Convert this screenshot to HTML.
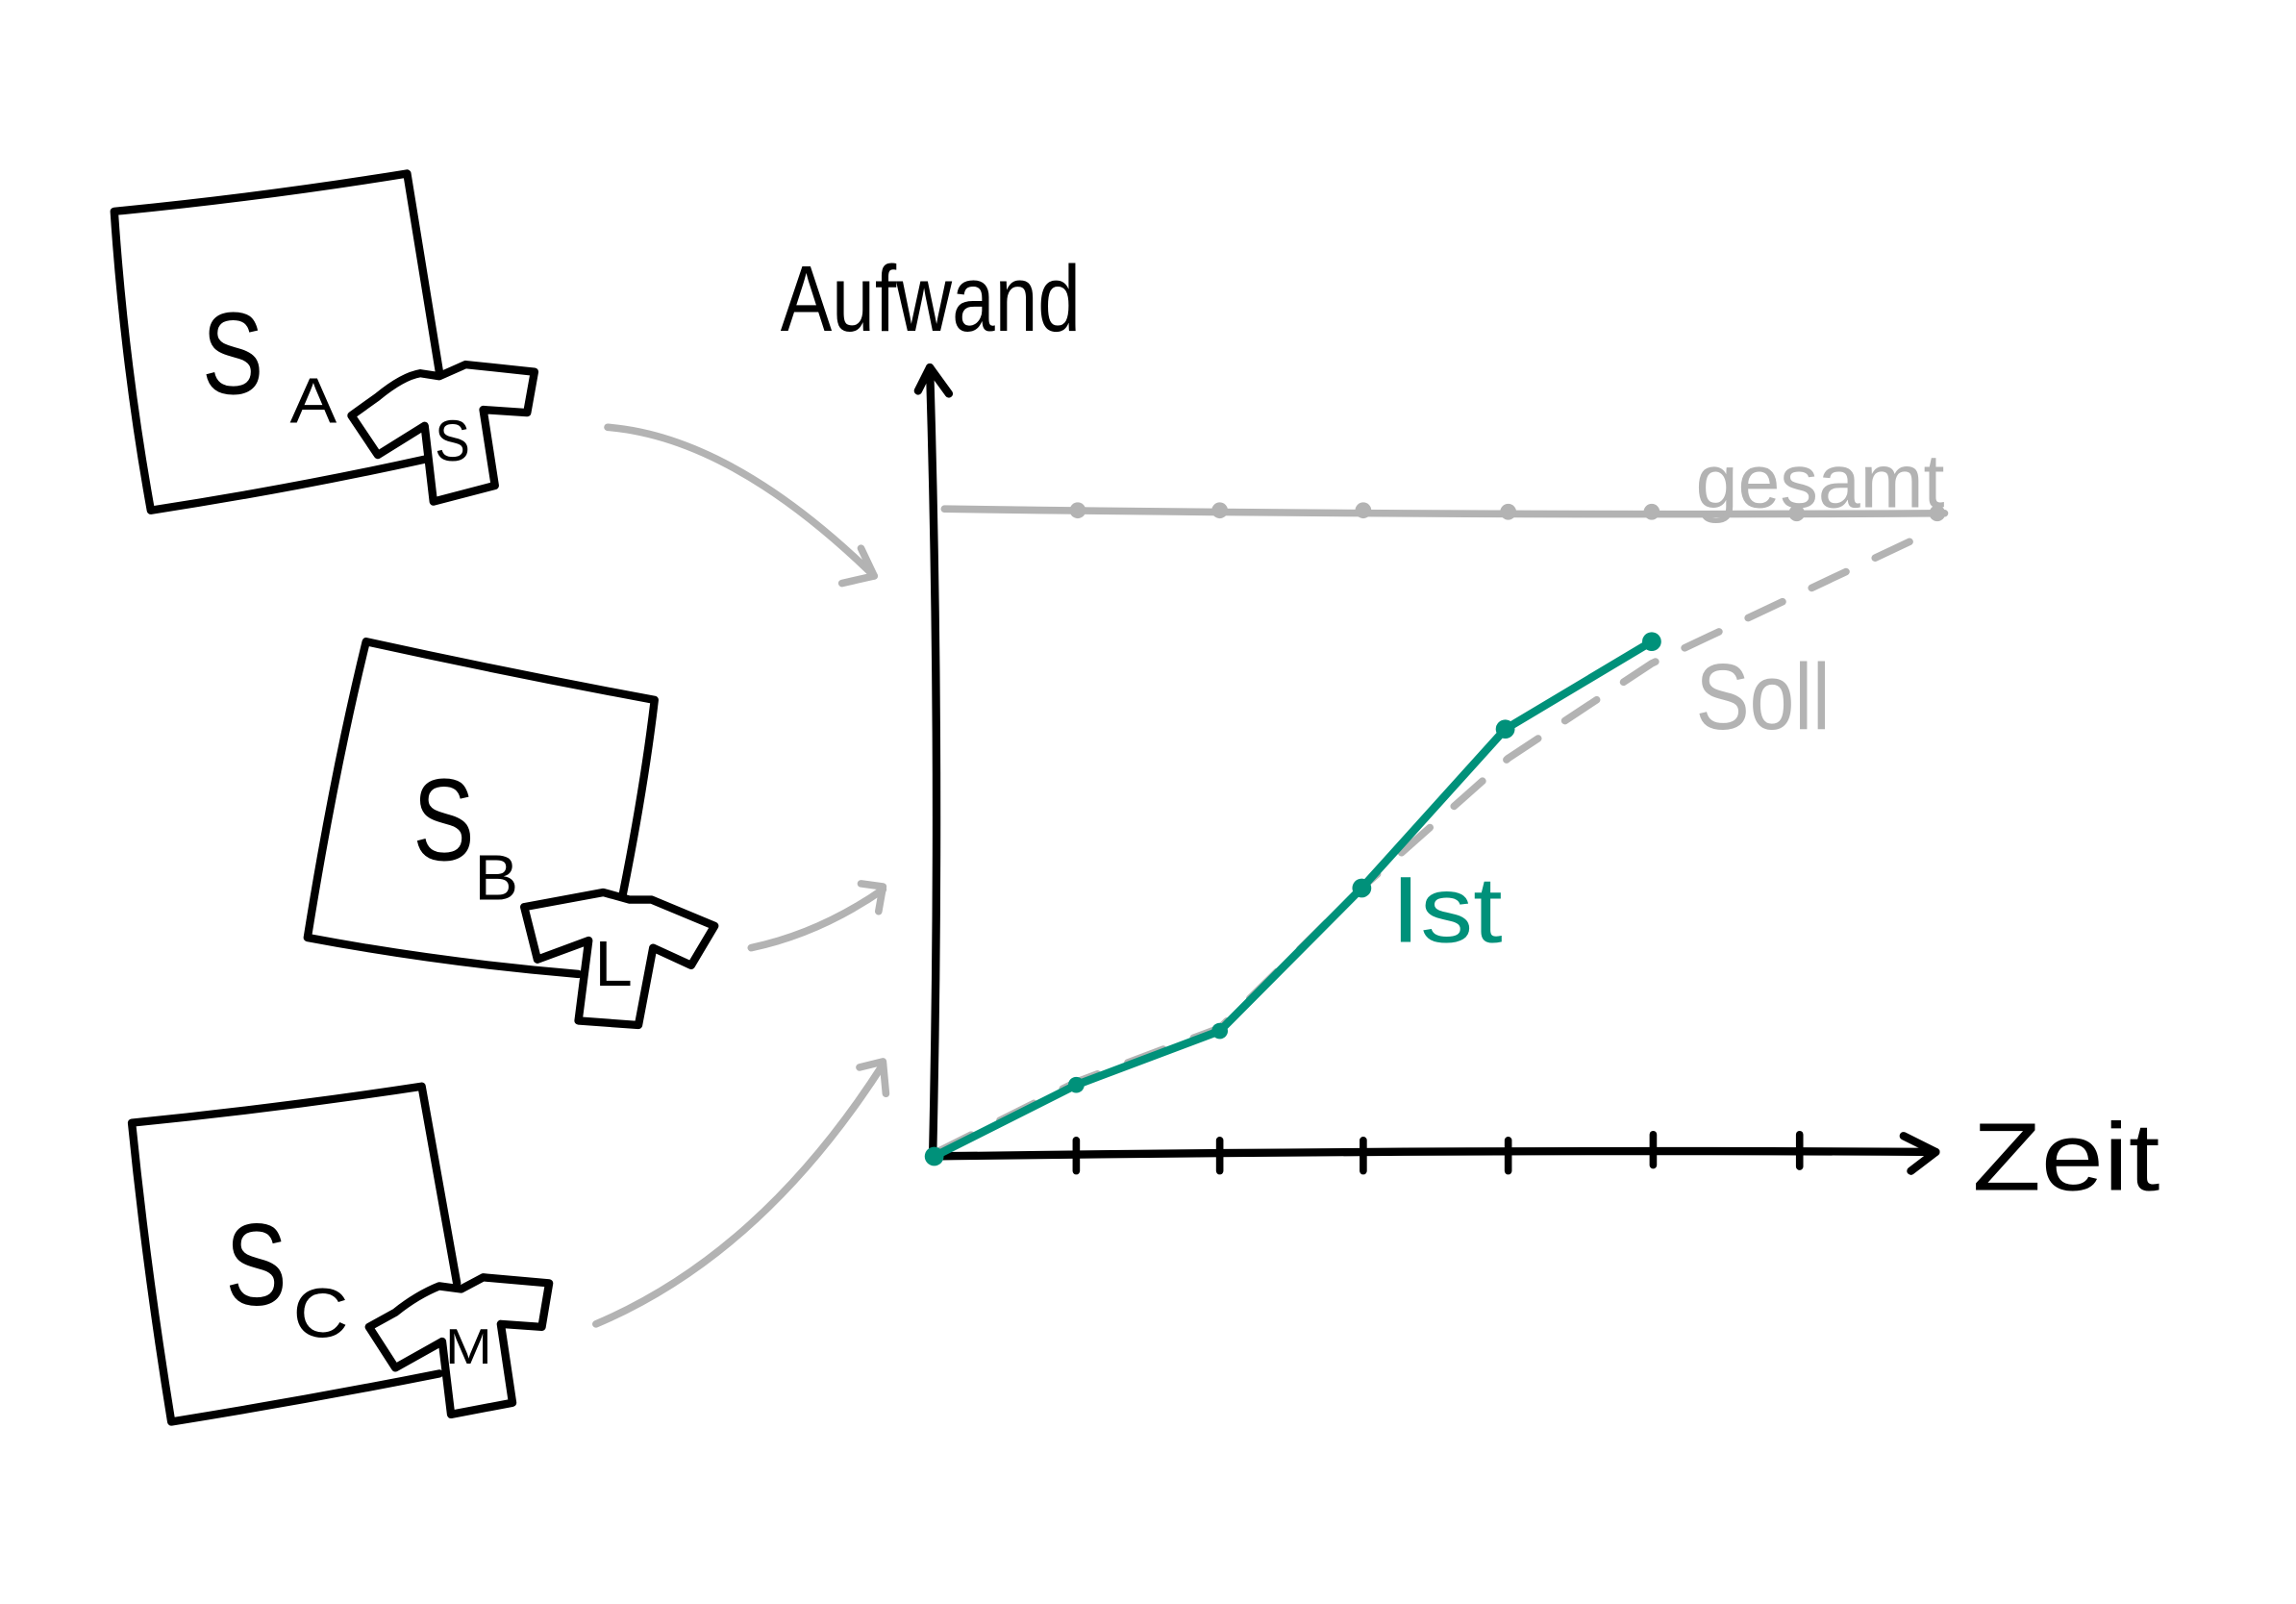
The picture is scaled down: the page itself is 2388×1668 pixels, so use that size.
<!DOCTYPE html>
<html><head><meta charset="utf-8"><style>
html,body{margin:0;padding:0;background:#fff;width:2388px;height:1668px;overflow:hidden}
svg{display:block}
text{font-family:"Liberation Sans",sans-serif}
</style></head><body>
<svg width="2388" height="1668" viewBox="0 0 1568 1100" preserveAspectRatio="none" xmlns="http://www.w3.org/2000/svg">
<g fill="none" stroke="#000" stroke-width="5.5" stroke-linecap="round" stroke-linejoin="round">
<path d="M300,255 L278,119 Q180,135 78,145 Q85,250 103,350 Q200,335 290,315"/>
<path d="M240,285 L258,272 Q275,258 287,256 L300,258 L318,250 L365,255 L360,283 L330,281 L338,333 L296,344 L290,292 L258,312 Z" fill="#fff"/>
<path d="M425,615 Q440,540 447,480 Q350,462 250,440 Q228,530 210,643 Q300,660 395,668"/>
<path d="M358,622 L412,612 L430,617 L445,617 L488,635 L472,662 L446,650 L436,703 L395,700 L402,645 L367,658 Z" fill="#fff"/>
<path d="M312,880 L288,745 Q190,760 90,770 Q100,870 117,975 Q210,960 300,942"/>
<path d="M252,910 L270,900 Q285,888 300,882 L315,884 L330,876 L375,880 L370,910 L342,908 L350,962 L308,970 L302,920 L270,938 Z" fill="#fff"/>
<path d="M637,793 Q643,520 635,252"/>
<path d="M627,268 L635,252 L648,270"/>
<path d="M637,793 Q1000,788 1322,790"/>
<path d="M1300,779 L1322,790 L1305,803"/>
<path d="M735,782V803M833,782V803M931,782V803M1030,782V803M1129,778V799M1229,778V800" stroke-width="5"/>
</g>
<g font-size="58" fill="#000">
<text x="138" y="270" font-size="80" textLength="42" lengthAdjust="spacingAndGlyphs">S</text><text x="198" y="290" font-size="44" textLength="32" lengthAdjust="spacingAndGlyphs">A</text>
<text x="297" y="316" font-size="40" textLength="24" lengthAdjust="spacingAndGlyphs">S</text>
<text x="282" y="590" font-size="80" textLength="42" lengthAdjust="spacingAndGlyphs">S</text><text x="324" y="617" font-size="44" textLength="30" lengthAdjust="spacingAndGlyphs">B</text>
<text x="406" y="676" font-size="44" textLength="26" lengthAdjust="spacingAndGlyphs">L</text>
<text x="154" y="895" font-size="80" textLength="42" lengthAdjust="spacingAndGlyphs">S</text><text x="200" y="917" font-size="48" textLength="38" lengthAdjust="spacingAndGlyphs">C</text>
<text x="304" y="935" font-size="34" textLength="32" lengthAdjust="spacingAndGlyphs">M</text>
<text x="533" y="227" font-size="64" textLength="205" lengthAdjust="spacingAndGlyphs">Aufwand</text>
<text x="1347" y="816" font-size="66" textLength="128" lengthAdjust="spacingAndGlyphs">Zeit</text>
</g>
<g fill="none" stroke="#b3b3b3" stroke-width="5" stroke-linecap="round" stroke-linejoin="round">
<path d="M415,293 Q500,300 597,395"/><path d="M575,400 L597,395 L588,376"/>
<path d="M513,650 Q560,640 603,610"/><path d="M588,606 L603,608 L600,625"/>
<path d="M407,908 Q520,860 603,730"/><path d="M587,732 L603,728 L605,750"/>
<path d="M645,349 Q1000,354 1328,352"/>
<path d="M640,790 L735,742 L833,705 L931,608 L1030,520 L1128,455 L1322,363" stroke-dasharray="26,22"/>
</g>
<g fill="#b3b3b3">
<circle cx="736" cy="350" r="5.5"/><circle cx="833" cy="350" r="5.5"/><circle cx="931" cy="350" r="5.5"/><circle cx="1030" cy="351" r="5.5"/><circle cx="1128" cy="351" r="5.5"/><circle cx="1227" cy="352" r="5.5"/><circle cx="1323" cy="352" r="5.5"/>
<text x="1158" y="348" font-size="52" textLength="170" lengthAdjust="spacingAndGlyphs">gesamt</text>
<text x="1158" y="500" font-size="64" textLength="92" lengthAdjust="spacingAndGlyphs">Soll</text>
</g>
<path d="M638,793 L735,744 L833,707 L930,609 L1028,500 L1128,440" fill="none" stroke="#00917a" stroke-width="5.5" stroke-linecap="round" stroke-linejoin="round"/>
<g fill="#00917a">
<circle cx="638" cy="793" r="6.5"/><circle cx="735" cy="744" r="5.5"/><circle cx="833" cy="707" r="5.5"/><circle cx="930" cy="609" r="6.5"/><circle cx="1028" cy="500" r="6.5"/><circle cx="1128" cy="440" r="6.5"/>
<text x="950" y="646" font-size="64" textLength="76" lengthAdjust="spacingAndGlyphs">Ist</text>
</g>
</svg>
</body></html>
